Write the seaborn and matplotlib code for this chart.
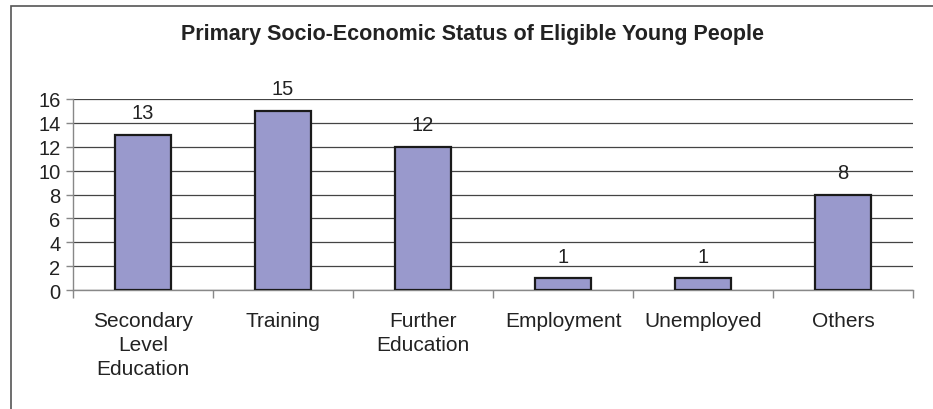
import numpy as np
import pandas as pd
import matplotlib
matplotlib.use("Agg")
import matplotlib.pyplot as plt
import matplotlib.patches as patches
import seaborn as sns

categories = ["Secondary\nLevel\nEducation", "Training", "Further\nEducation",
              "Employment", "Unemployed", "Others"]
counts = [13, 15, 12, 1, 1, 8]
y_ticks = [0, 2, 4, 6, 8, 10, 12, 14, 16]

df = pd.DataFrame({"Status": categories, "Count": counts})

sns.set_style("white")
plt.rcParams["font.family"] = ["Liberation Sans", "DejaVu Sans"]

fig = plt.figure(figsize=(9.33, 4.10), dpi=100)
ax = fig.add_axes([0.0782, 0.2902, 0.9004, 0.4659])

sns.barplot(data=df, x="Status", y="Count", color="#9999CC", width=0.4,
            edgecolor="#1a1a1a", linewidth=1.6, saturation=1, ax=ax, zorder=3)

for c in ax.containers:
    ax.bar_label(c, fmt="%d", padding=9, fontsize=14.5, color="#222222")

ax.set_ylim(0, 16)
ax.set_yticks(y_ticks)
ax.set_xlim(-0.5, len(categories) - 0.5)
ax.yaxis.grid(True, color="#444444", linewidth=0.9, zorder=0)
ax.set_axisbelow(True)

ax.set_xlabel("")
ax.set_ylabel("")
ax.tick_params(axis="y", labelsize=14.5, length=5, width=1, color="#888888",
               direction="out", left=True, pad=4, labelcolor="#222222")
ax.tick_params(axis="x", which="major", length=0, labelsize=15, pad=15,
               labelcolor="#222222")
for lbl in ax.get_xticklabels():
    lbl.set_linespacing(1.35)
ax.set_xticks(np.arange(-0.5, len(categories)), minor=True)
ax.tick_params(axis="x", which="minor", length=6, width=1, color="#888888",
               direction="out", bottom=True)

for side in ["top", "right"]:
    ax.spines[side].set_visible(False)
for side in ["left", "bottom"]:
    ax.spines[side].set_color("#888888")
    ax.spines[side].set_linewidth(1)

fig.text(0.506, 0.917, "Primary Socio-Economic Status of Eligible Young People",
         ha="center", va="center", fontsize=15.5, fontweight="bold", color="#222222")

border = patches.Rectangle((11 / 933, -0.05), 1.1, 1 - 6.5 / 410 + 0.05,
                           transform=fig.transFigure, fill=False,
                           edgecolor="#555555", linewidth=1.2, clip_on=False)
fig.patches.append(border)

fig.savefig("out.png", dpi=100)
